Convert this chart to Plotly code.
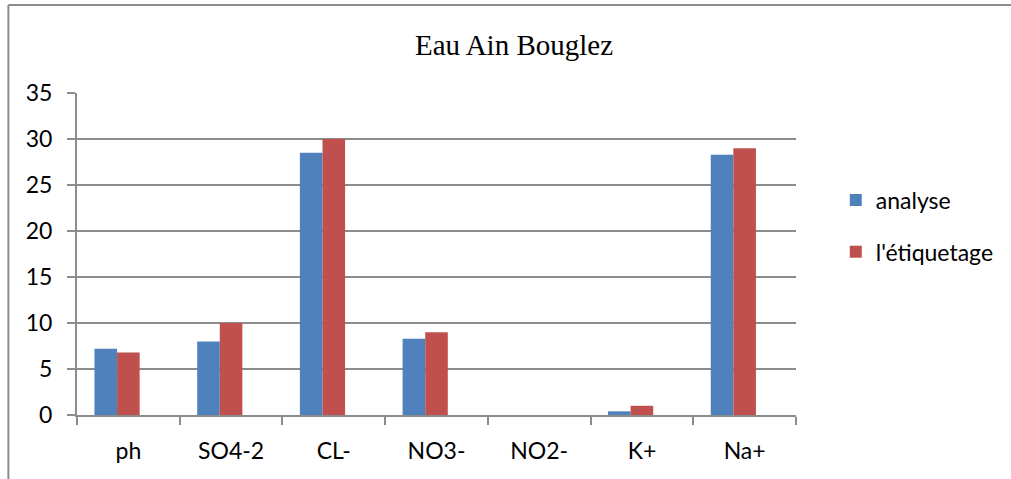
import plotly.graph_objects as go

categories = ["ph", "SO4-2", "CL-", "NO3-", "NO2-", "K+", "Na+"]
analyse = [7.2, 8, 28.5, 8.3, 0, 0.4, 28.3]
etiquetage = [6.8, 10, 30, 9, 0, 1, 29]
series_names = ["analyse", "l'étiquetage"]
y_ticks = [0, 5, 10, 15, 20, 25, 30, 35]

W, H = 1011, 479
ML, MR, MT, MB = 77, 211, 93, 64
pw = W - ML - MR
ph_ = H - MT - MB

BLUE = "#4F81BD"
RED = "#C0504D"
GRID = "#8C8C8C"
FONT = "Lato"

fig = go.Figure()
fig.add_trace(go.Bar(x=categories, y=analyse, name=series_names[0],
                     marker=dict(color=BLUE, line=dict(width=0)),
                     width=0.22, offset=-0.33, legendgroup="a"))
fig.add_trace(go.Bar(x=categories, y=etiquetage, name=series_names[1],
                     marker=dict(color=RED, line=dict(width=0)),
                     width=0.22, offset=-0.11, legendgroup="b"))

# frame (left and top edges visible)
fx = (8 - ML) / pw
fy = (H - 5 - MB) / ph_
fig.add_shape(type="line", xref="paper", yref="paper", x0=fx, x1=fx,
              y0=fy, y1=-MB / ph_ - 0.05, line=dict(color=GRID, width=2))
fig.add_shape(type="line", xref="paper", yref="paper", x0=fx, x1=(W - ML) / pw + 0.05,
              y0=fy, y1=fy, line=dict(color=GRID, width=2))

fig.update_layout(
    width=W, height=H,
    margin=dict(l=ML, r=MR, t=MT, b=MB),
    paper_bgcolor="white", plot_bgcolor="white",
    title=dict(text="Eau Ain Bouglez", x=514 / W, xanchor="center",
               y=1 - 45 / H, yanchor="middle", yref="container",
               font=dict(family="Liberation Serif", size=29, color="black")),
    font=dict(family=FONT, size=23, color="black"),
    showlegend=True,
    legend=dict(x=(840 - ML) / pw, xanchor="left", y=(415 - 226) / ph_, yanchor="middle",
                traceorder="grouped", tracegroupgap=19,
                font=dict(family=FONT, size=23, color="black"),
                bgcolor="rgba(0,0,0,0)"),
    bargap=0.5,
)
fig.update_xaxes(type="category", showgrid=False, showline=True, linecolor=GRID, linewidth=2,
                 ticks="outside", ticklen=8, tickcolor=GRID, tickwidth=2, tickson="boundaries",
                 ticklabelstandoff=14, range=[-0.5, len(categories) - 0.5],
                 tickfont=dict(family=FONT, size=23, color="black"))
fig.update_yaxes(range=[0, 35], tickvals=y_ticks, showgrid=True, gridcolor=GRID, gridwidth=2,
                 showline=True, linecolor=GRID, linewidth=2, zeroline=False,
                 ticks="outside", ticklen=8, tickcolor=GRID, tickwidth=2,
                 ticklabelstandoff=10,
                 tickfont=dict(family=FONT, size=23, color="black"))

fig.write_html("out.html", config={"displayModeBar": False},
               post_script="document.body.style.margin='0';")
